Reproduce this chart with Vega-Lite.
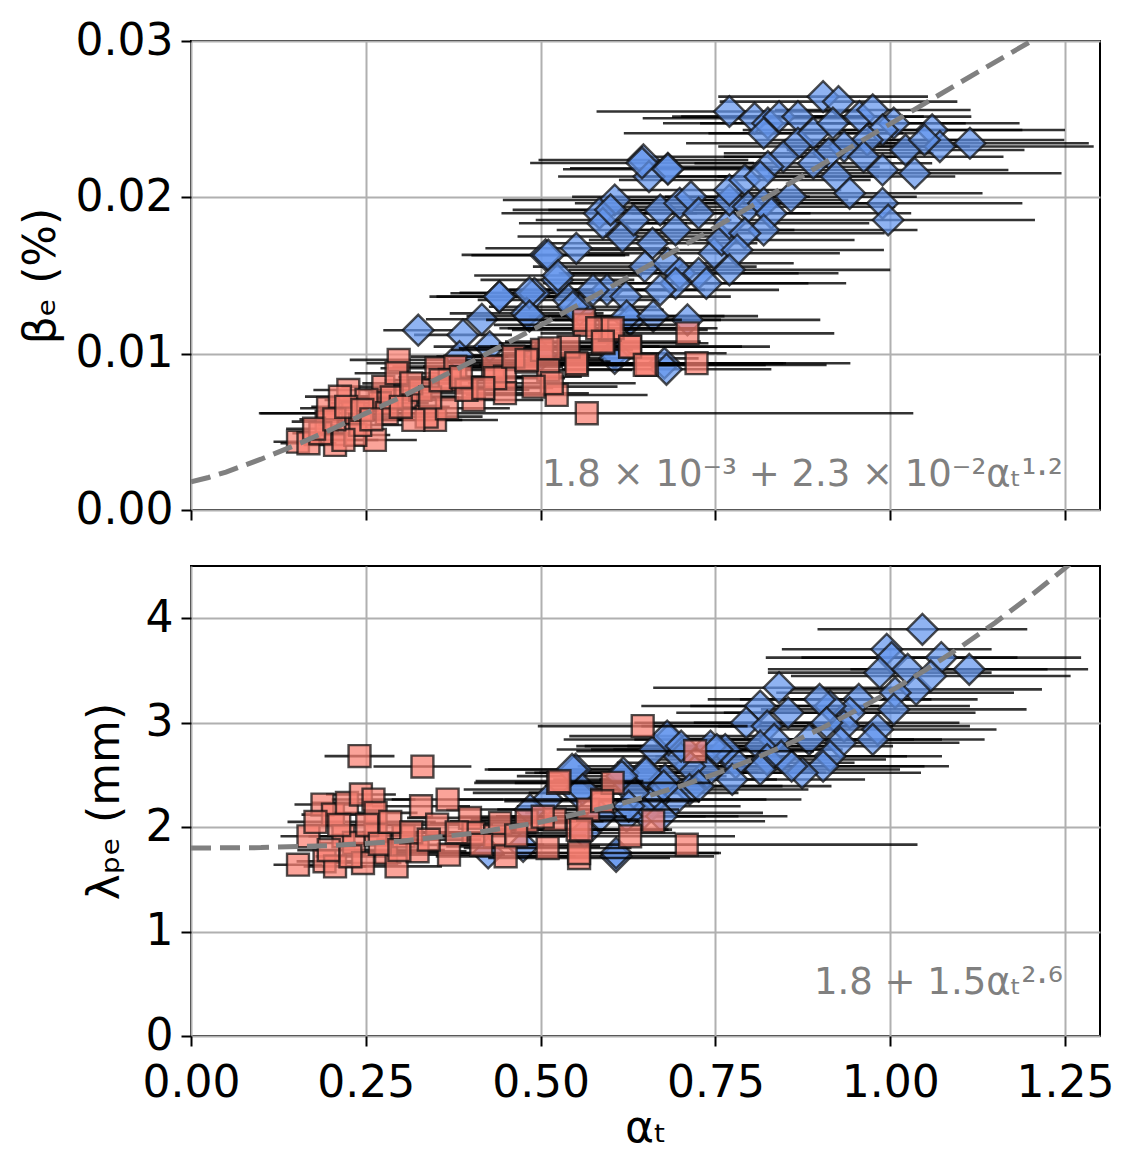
{
"$schema": "https://vega.github.io/schema/vega-lite/v6.json",
"background": "white",
"padding": {"left": 18, "top": 18, "right": 10, "bottom": 5},
"config": {
  "font": "DejaVu Sans",
  "view": {"stroke": "black", "strokeWidth": 2},
  "axis": {"grid": true, "gridColor": "#b0b0b0", "gridWidth": 2, "gridOpacity": 1, "domain": false, "tickColor": "black", "tickWidth": 2, "tickSize": 10, "labelFontSize": 44, "labelColor": "black", "labelPadding": 8, "labelFlush": false, "titleFontSize": 44, "titleFontWeight": "normal", "titleColor": "black", "labelFont": "DejaVu Sans", "titleFont": "DejaVu Sans"}
},
"datasets": {
"topH": [
{"a":0.770,"v":0.02549,"e":0.19},{"a":0.806,"v":0.02506,"e":0.16},{"a":0.825,"v":0.02474,"e":0.15},{"a":0.841,"v":0.02516,"e":0.14},{"a":0.868,"v":0.02516,"e":0.18},{"a":0.904,"v":0.02644,"e":0.15},{"a":0.926,"v":0.02612,"e":0.17},{"a":0.819,"v":0.0241,"e":0.2},{"a":0.868,"v":0.02346,"e":0.16},{"a":0.890,"v":0.0241,"e":0.15},{"a":0.918,"v":0.02474,"e":0.19},{"a":0.956,"v":0.02516,"e":0.16},{"a":0.975,"v":0.02559,"e":0.14},{"a":1.005,"v":0.02474,"e":0.18},{"a":0.989,"v":0.02431,"e":0.2},{"a":1.022,"v":0.02303,"e":0.17},{"a":1.060,"v":0.02431,"e":0.19},{"a":1.071,"v":0.02325,"e":0.22},{"a":1.114,"v":0.02346,"e":0.17},{"a":1.049,"v":0.02367,"e":0.2},{"a":0.967,"v":0.02367,"e":0.16},{"a":0.934,"v":0.02325,"e":0.18},{"a":0.912,"v":0.02282,"e":0.15},{"a":0.890,"v":0.02218,"e":0.17},{"a":0.847,"v":0.0226,"e":0.19},{"a":0.825,"v":0.02196,"e":0.16},{"a":0.962,"v":0.0226,"e":0.2},{"a":0.989,"v":0.02175,"e":0.18},{"a":1.035,"v":0.02154,"e":0.21},{"a":0.923,"v":0.02133,"e":0.17},{"a":0.942,"v":0.02026,"e":0.19},{"a":0.989,"v":0.01962,"e":0.2},{"a":0.997,"v":0.01855,"e":0.21},{"a":0.647,"v":0.02239,"e":0.15},{"a":0.682,"v":0.02186,"e":0.14},{"a":0.655,"v":0.02133,"e":0.13},{"a":0.606,"v":0.01983,"e":0.16},{"a":0.584,"v":0.01898,"e":0.14},{"a":0.589,"v":0.01834,"e":0.12},{"a":0.551,"v":0.01674,"e":0.13},{"a":0.507,"v":0.01632,"e":0.12},{"a":0.524,"v":0.01472,"e":0.11},{"a":0.441,"v":0.01365,"e":0.1},{"a":0.491,"v":0.01386,"e":0.12},{"a":0.480,"v":0.01258,"e":0.11},{"a":0.540,"v":0.01344,"e":0.13},{"a":0.556,"v":0.0128,"e":0.12},{"a":0.595,"v":0.01408,"e":0.14},{"a":0.622,"v":0.01365,"e":0.15},{"a":0.628,"v":0.01216,"e":0.13},{"a":0.617,"v":0.01749,"e":0.15},{"a":0.633,"v":0.01855,"e":0.14},{"a":0.671,"v":0.01919,"e":0.16},{"a":0.699,"v":0.01962,"e":0.15},{"a":0.715,"v":0.02004,"e":0.17},{"a":0.726,"v":0.01898,"e":0.16},{"a":0.693,"v":0.01791,"e":0.17},{"a":0.660,"v":0.01706,"e":0.15},{"a":0.649,"v":0.01557,"e":0.16},{"a":0.682,"v":0.01578,"e":0.18},{"a":0.699,"v":0.01514,"e":0.17},{"a":0.726,"v":0.01514,"e":0.2},{"a":0.748,"v":0.01642,"e":0.18},{"a":0.759,"v":0.01727,"e":0.19},{"a":0.770,"v":0.01834,"e":0.2},{"a":0.770,"v":0.01983,"e":0.17},{"a":0.770,"v":0.02047,"e":0.16},{"a":0.792,"v":0.02111,"e":0.18},{"a":0.814,"v":0.02133,"e":0.17},{"a":0.797,"v":0.0194,"e":0.21},{"a":0.819,"v":0.01962,"e":0.19},{"a":0.830,"v":0.01898,"e":0.2},{"a":0.858,"v":0.02004,"e":0.18},{"a":0.819,"v":0.01791,"e":0.22},{"a":0.792,"v":0.0177,"e":0.2},{"a":0.781,"v":0.01663,"e":0.21},{"a":0.770,"v":0.01536,"e":0.23},{"a":0.737,"v":0.0145,"e":0.2},{"a":0.693,"v":0.0145,"e":0.19},{"a":0.671,"v":0.01408,"e":0.17},{"a":0.710,"v":0.01216,"e":0.19},{"a":0.677,"v":0.00939,"e":0.17},{"a":0.606,"v":0.01003,"e":0.16},{"a":0.325,"v":0.0115,"e":0.05},{"a":0.389,"v":0.0112,"e":0.07},{"a":0.416,"v":0.0122,"e":0.08},{"a":0.441,"v":0.01365,"e":0.09},{"a":0.484,"v":0.0139,"e":0.1},{"a":0.484,"v":0.0124,"e":0.09},{"a":0.511,"v":0.0163,"e":0.11},{"a":0.525,"v":0.015,"e":0.12},{"a":0.546,"v":0.013,"e":0.12},{"a":0.575,"v":0.01408,"e":0.13},{"a":0.623,"v":0.0124,"e":0.14},{"a":0.661,"v":0.0124,"e":0.15},{"a":0.427,"v":0.01045,"e":0.08},{"a":0.384,"v":0.00981,"e":0.07},{"a":0.600,"v":0.0192,"e":0.14},{"a":0.645,"v":0.0222,"e":0.16},{"a":0.682,"v":0.0218,"e":0.15},{"a":0.500,"v":0.0099,"e":0.1},{"a":0.606,"v":0.0097,"e":0.12},{"a":0.680,"v":0.0090,"e":0.15}
],
"topL": [
{"a":0.153,"v":0.00437,"e":0.035},{"a":0.168,"v":0.00427,"e":0.04},{"a":0.194,"v":0.00565,"e":0.05},{"a":0.206,"v":0.00416,"e":0.045},{"a":0.225,"v":0.00768,"e":0.05},{"a":0.196,"v":0.00651,"e":0.04},{"a":0.232,"v":0.00619,"e":0.135},{"a":0.263,"v":0.00448,"e":0.06},{"a":0.235,"v":0.0048,"e":0.05},{"a":0.275,"v":0.00789,"e":0.06},{"a":0.297,"v":0.0096,"e":0.07},{"a":0.294,"v":0.00875,"e":0.06},{"a":0.270,"v":0.00683,"e":0.07},{"a":0.308,"v":0.00725,"e":0.07},{"a":0.328,"v":0.00768,"e":0.08},{"a":0.351,"v":0.00907,"e":0.08},{"a":0.349,"v":0.00576,"e":0.09},{"a":0.337,"v":0.00597,"e":0.08},{"a":0.366,"v":0.00651,"e":0.09},{"a":0.378,"v":0.00917,"e":0.09},{"a":0.370,"v":0.00832,"e":0.08},{"a":0.404,"v":0.00704,"e":0.1},{"a":0.394,"v":0.00768,"e":0.09},{"a":0.432,"v":0.00917,"e":0.1},{"a":0.449,"v":0.00853,"e":0.11},{"a":0.449,"v":0.00747,"e":0.12},{"a":0.480,"v":0.00949,"e":0.12},{"a":0.502,"v":0.01024,"e":0.13},{"a":0.511,"v":0.00896,"e":0.12},{"a":0.523,"v":0.00736,"e":0.13},{"a":0.552,"v":0.00928,"e":0.14},{"a":0.563,"v":0.01184,"e":0.13},{"a":0.566,"v":0.00619,"e":0.467},{"a":0.590,"v":0.01067,"e":0.15},{"a":0.628,"v":0.01045,"e":0.16},{"a":0.652,"v":0.00928,"e":0.17},{"a":0.599,"v":0.01152,"e":0.14},{"a":0.540,"v":0.01045,"e":0.13},{"a":0.516,"v":0.00811,"e":0.12},{"a":0.490,"v":0.00789,"e":0.12},{"a":0.435,"v":0.00843,"e":0.1},{"a":0.242,"v":0.00544,"e":0.06},{"a":0.218,"v":0.00448,"e":0.05},{"a":0.251,"v":0.00704,"e":0.06},{"a":0.185,"v":0.00491,"e":0.04},{"a":0.213,"v":0.00725,"e":0.05},{"a":0.318,"v":0.00576,"e":0.07},{"a":0.280,"v":0.00619,"e":0.06},{"a":0.461,"v":0.00981,"e":0.11},{"a":0.562,"v":0.01216,"e":0.14},{"a":0.581,"v":0.01163,"e":0.14},{"a":0.603,"v":0.01163,"e":0.15},{"a":0.589,"v":0.01077,"e":0.14},{"a":0.513,"v":0.01034,"e":0.13},{"a":0.628,"v":0.01045,"e":0.2},{"a":0.710,"v":0.0113,"e":0.21},{"a":0.723,"v":0.00939,"e":0.22},{"a":0.649,"v":0.00928,"e":0.26},{"a":0.551,"v":0.00939,"e":0.3},{"a":0.480,"v":0.0096,"e":0.11},{"a":0.176,"v":0.0052,"e":0.04},{"a":0.205,"v":0.0058,"e":0.05},{"a":0.222,"v":0.0066,"e":0.05},{"a":0.245,"v":0.0064,"e":0.06},{"a":0.258,"v":0.0058,"e":0.06},{"a":0.287,"v":0.0072,"e":0.07},{"a":0.300,"v":0.0066,"e":0.07},{"a":0.315,"v":0.0081,"e":0.07},{"a":0.342,"v":0.0072,"e":0.08},{"a":0.357,"v":0.0083,"e":0.08},{"a":0.386,"v":0.0085,"e":0.09},{"a":0.418,"v":0.0078,"e":0.1}
],
"botH": [
{"a":1.046,"v":3.894,"e":0.15},{"a":0.995,"v":3.703,"e":0.15},{"a":1.073,"v":3.623,"e":0.2},{"a":1.113,"v":3.511,"e":0.17},{"a":1.002,"v":3.623,"e":0.18},{"a":0.985,"v":3.479,"e":0.16},{"a":1.025,"v":3.511,"e":0.2},{"a":1.037,"v":3.319,"e":0.18},{"a":1.007,"v":3.287,"e":0.17},{"a":1.005,"v":3.127,"e":0.19},{"a":1.058,"v":3.447,"e":0.2},{"a":0.955,"v":3.223,"e":0.17},{"a":0.942,"v":3.095,"e":0.18},{"a":0.982,"v":2.935,"e":0.17},{"a":0.975,"v":2.839,"e":0.16},{"a":0.934,"v":2.967,"e":0.18},{"a":0.914,"v":3.159,"e":0.2},{"a":0.899,"v":3.223,"e":0.16},{"a":0.909,"v":2.999,"e":0.19},{"a":0.929,"v":2.807,"e":0.17},{"a":0.914,"v":2.679,"e":0.16},{"a":0.904,"v":2.583,"e":0.18},{"a":0.874,"v":2.52,"e":0.17},{"a":0.884,"v":2.839,"e":0.19},{"a":0.854,"v":3.095,"e":0.16},{"a":0.841,"v":3.335,"e":0.18},{"a":0.814,"v":3.159,"e":0.17},{"a":0.794,"v":2.999,"e":0.16},{"a":0.824,"v":2.967,"e":0.18},{"a":0.834,"v":2.839,"e":0.2},{"a":0.814,"v":2.775,"e":0.19},{"a":0.824,"v":2.647,"e":0.17},{"a":0.844,"v":2.679,"e":0.18},{"a":0.859,"v":2.583,"e":0.19},{"a":0.814,"v":2.552,"e":0.2},{"a":0.779,"v":2.616,"e":0.17},{"a":0.764,"v":2.743,"e":0.16},{"a":0.743,"v":2.775,"e":0.18},{"a":0.774,"v":2.456,"e":0.19},{"a":0.738,"v":2.52,"e":0.17},{"a":0.713,"v":2.583,"e":0.16},{"a":0.698,"v":2.679,"e":0.15},{"a":0.683,"v":2.839,"e":0.15},{"a":0.663,"v":2.743,"e":0.14},{"a":0.648,"v":2.52,"e":0.15},{"a":0.678,"v":2.456,"e":0.16},{"a":0.713,"v":2.36,"e":0.17},{"a":0.693,"v":2.264,"e":0.18},{"a":0.663,"v":2.264,"e":0.16},{"a":0.633,"v":2.328,"e":0.15},{"a":0.618,"v":2.52,"e":0.14},{"a":0.648,"v":2.136,"e":0.17},{"a":0.673,"v":2.104,"e":0.18},{"a":0.623,"v":2.104,"e":0.16},{"a":0.550,"v":2.552,"e":0.13},{"a":0.553,"v":2.328,"e":0.15},{"a":0.608,"v":1.72,"e":0.14},{"a":0.563,"v":1.944,"e":0.13},{"a":0.545,"v":2.552,"e":0.12},{"a":0.510,"v":2.264,"e":0.13},{"a":0.485,"v":2.168,"e":0.12},{"a":0.560,"v":2.36,"e":0.17},{"a":0.475,"v":1.816,"e":0.11},{"a":0.425,"v":1.752,"e":0.1},{"a":0.608,"v":1.752,"e":0.15},{"a":0.681,"v":2.871,"e":0.14},{"a":0.701,"v":2.775,"e":0.15},{"a":0.651,"v":2.52,"e":0.16},{"a":0.616,"v":2.488,"e":0.15},{"a":0.676,"v":2.392,"e":0.17},{"a":0.752,"v":2.743,"e":0.18},{"a":0.726,"v":2.392,"e":0.19},{"a":0.586,"v":2.104,"e":0.15},{"a":0.626,"v":2.2,"e":0.16}
],
"botL": [
{"a":0.241,"v":2.68,"e":0.05},{"a":0.331,"v":2.58,"e":0.07},{"a":0.188,"v":2.216,"e":0.04},{"a":0.203,"v":2.12,"e":0.045},{"a":0.223,"v":2.232,"e":0.05},{"a":0.243,"v":2.312,"e":0.05},{"a":0.261,"v":2.264,"e":0.06},{"a":0.264,"v":2.136,"e":0.06},{"a":0.168,"v":1.912,"e":0.04},{"a":0.153,"v":1.64,"e":0.035},{"a":0.191,"v":1.672,"e":0.04},{"a":0.206,"v":1.624,"e":0.045},{"a":0.218,"v":1.912,"e":0.05},{"a":0.233,"v":1.848,"e":0.05},{"a":0.246,"v":1.656,"e":0.055},{"a":0.264,"v":1.928,"e":0.06},{"a":0.279,"v":1.752,"e":0.06},{"a":0.294,"v":1.624,"e":0.065},{"a":0.304,"v":1.912,"e":0.07},{"a":0.329,"v":2.2,"e":0.07},{"a":0.324,"v":1.768,"e":0.07},{"a":0.352,"v":2.024,"e":0.08},{"a":0.367,"v":2.264,"e":0.08},{"a":0.369,"v":1.736,"e":0.08},{"a":0.399,"v":2.088,"e":0.09},{"a":0.404,"v":1.944,"e":0.09},{"a":0.435,"v":1.912,"e":0.1},{"a":0.450,"v":1.72,"e":0.1},{"a":0.442,"v":2.04,"e":0.1},{"a":0.480,"v":2.056,"e":0.11},{"a":0.510,"v":1.8,"e":0.12},{"a":0.525,"v":2.424,"e":0.12},{"a":0.520,"v":2.072,"e":0.12},{"a":0.553,"v":1.976,"e":0.13},{"a":0.555,"v":1.704,"e":0.13},{"a":0.568,"v":2.168,"e":0.13},{"a":0.588,"v":2.264,"e":0.14},{"a":0.603,"v":2.424,"e":0.14},{"a":0.628,"v":1.912,"e":0.15},{"a":0.646,"v":2.967,"e":0.15},{"a":0.661,"v":2.056,"e":0.16},{"a":0.721,"v":2.727,"e":0.17},{"a":0.709,"v":1.832,"e":0.33},{"a":0.503,"v":2.10,"e":0.12},{"a":0.527,"v":2.44,"e":0.12},{"a":0.588,"v":2.248,"e":0.14},{"a":0.558,"v":1.976,"e":0.13},{"a":0.555,"v":1.752,"e":0.2},{"a":0.178,"v":2.05,"e":0.04},{"a":0.197,"v":1.78,"e":0.045},{"a":0.212,"v":2.02,"e":0.05},{"a":0.228,"v":1.72,"e":0.05},{"a":0.252,"v":2.02,"e":0.055},{"a":0.270,"v":1.84,"e":0.06},{"a":0.285,"v":2.05,"e":0.065},{"a":0.298,"v":1.78,"e":0.065},{"a":0.315,"v":1.95,"e":0.07},{"a":0.340,"v":1.88,"e":0.075},{"a":0.380,"v":1.95,"e":0.085},{"a":0.415,"v":1.83,"e":0.09},{"a":0.465,"v":1.92,"e":0.1}
],
"fitTop": [
{"a":0,"v":0.0018},{"a":0.025,"v":0.00208},{"a":0.05,"v":0.00243},{"a":0.1,"v":0.00325},{"a":0.15,"v":0.00416},{"a":0.2,"v":0.00514},{"a":0.3,"v":0.00722},{"a":0.4,"v":0.00946},{"a":0.5,"v":0.01181},{"a":0.6,"v":0.01426},{"a":0.7,"v":0.01679},{"a":0.8,"v":0.0194},{"a":0.9,"v":0.02205},{"a":1.0,"v":0.0247},{"a":1.1,"v":0.02735},{"a":1.2,"v":0.02995},{"a":1.25,"v":0.0312}
],
"fitBot": [
{"a":0,"v":1.8},{"a":0.1,"v":1.8038},{"a":0.2,"v":1.8229},{"a":0.3,"v":1.8656},{"a":0.4,"v":1.9385},{"a":0.5,"v":2.0474},{"a":0.6,"v":2.1975},{"a":0.65,"v":2.2895},{"a":0.7,"v":2.3934},{"a":0.75,"v":2.51},{"a":0.8,"v":2.6397},{"a":0.85,"v":2.783},{"a":0.9,"v":2.9406},{"a":0.95,"v":3.1127},{"a":1.0,"v":3.3},{"a":1.05,"v":3.5028},{"a":1.1,"v":3.7218},{"a":1.15,"v":3.9573},{"a":1.2,"v":4.2098},{"a":1.25,"v":4.4794},{"a":1.3,"v":4.767}
]
},
"spacing": 32,
"resolve": {"scale": {"x": "independent", "y": "independent"}},
"vconcat": [
{
  "width": 909, "height": 469,
  "layer": [
    {"data": {"name": "topH"},
     "mark": {"type": "errorbar", "color": "black", "opacity": 0.8, "thickness": 2.6},
     "encoding": {
       "x": {"field": "a", "type": "quantitative", "title": null, "scale": {"domain": [0, 1.3], "nice": false, "zero": false}, "axis": {"values": [0, 0.25, 0.5, 0.75, 1, 1.25], "labels": false, "title": null}},
       "xError": {"field": "e"},
       "y": {"field": "v", "type": "quantitative", "title": "βₑ (%)", "scale": {"domain": [0, 0.03], "nice": false}, "axis": {"values": [0, 0.01, 0.02, 0.03], "format": ".2f", "title": "βₑ (%)", "titlePadding": 12}}
     }},
    {"data": {"name": "topH"},
     "mark": {"type": "point", "shape": "diamond", "filled": true, "size": 950, "fill": "#6495ED", "fillOpacity": 0.72, "stroke": "#111111", "strokeOpacity": 0.75, "strokeWidth": 2.4},
     "encoding": {"x": {"field": "a", "type": "quantitative", "title": null}, "y": {"field": "v", "type": "quantitative", "title": "βₑ (%)"}}},
    {"data": {"name": "topL"},
     "mark": {"type": "errorbar", "color": "black", "opacity": 0.8, "thickness": 2.6},
     "encoding": {"x": {"field": "a", "type": "quantitative", "title": null}, "xError": {"field": "e"}, "y": {"field": "v", "type": "quantitative", "title": "βₑ (%)"}}},
    {"data": {"name": "topL"},
     "mark": {"type": "point", "shape": "square", "filled": true, "size": 480, "fill": "#FA8072", "fillOpacity": 0.72, "stroke": "#111111", "strokeOpacity": 0.75, "strokeWidth": 2.4},
     "encoding": {"x": {"field": "a", "type": "quantitative", "title": null}, "y": {"field": "v", "type": "quantitative", "title": "βₑ (%)"}}},
    {"data": {"name": "fitTop"},
     "mark": {"type": "line", "color": "#808080", "strokeWidth": 5, "strokeDash": [20, 9], "clip": true},
     "encoding": {"x": {"field": "a", "type": "quantitative", "title": null}, "y": {"field": "v", "type": "quantitative", "title": "βₑ (%)"}}},
    {"data": {"values": [{}]},
     "mark": {"type": "text", "align": "right", "baseline": "alphabetic", "fontSize": 37, "color": "#808080", "font": "DejaVu Sans"},
     "encoding": {"x": {"datum": 1.247, "title": null}, "y": {"datum": 0.00154, "title": "βₑ (%)"}, "text": {"value": "1.8 × 10⁻³ + 2.3 × 10⁻²αₜ¹·²"}}}
  ]
},
{
  "width": 909, "height": 470,
  "layer": [
    {"data": {"name": "botH"},
     "mark": {"type": "errorbar", "color": "black", "opacity": 0.8, "thickness": 2.6},
     "encoding": {
       "x": {"field": "a", "type": "quantitative", "title": "αₜ", "scale": {"domain": [0, 1.3], "nice": false, "zero": false}, "axis": {"values": [0, 0.25, 0.5, 0.75, 1, 1.25], "format": ".2f", "title": "αₜ", "labelPadding": 15, "titlePadding": 1}},
       "xError": {"field": "e"},
       "y": {"field": "v", "type": "quantitative", "title": "λₚₑ (mm)", "scale": {"domain": [0, 4.5], "nice": false}, "axis": {"values": [0, 1, 2, 3, 4], "format": "d", "title": "λₚₑ (mm)", "titlePadding": 18}}
     }},
    {"data": {"name": "botH"},
     "mark": {"type": "point", "shape": "diamond", "filled": true, "size": 950, "fill": "#6495ED", "fillOpacity": 0.72, "stroke": "#111111", "strokeOpacity": 0.75, "strokeWidth": 2.4},
     "encoding": {"x": {"field": "a", "type": "quantitative", "title": "αₜ"}, "y": {"field": "v", "type": "quantitative", "title": "λₚₑ (mm)"}}},
    {"data": {"name": "botL"},
     "mark": {"type": "errorbar", "color": "black", "opacity": 0.8, "thickness": 2.6},
     "encoding": {"x": {"field": "a", "type": "quantitative", "title": "αₜ"}, "xError": {"field": "e"}, "y": {"field": "v", "type": "quantitative", "title": "λₚₑ (mm)"}}},
    {"data": {"name": "botL"},
     "mark": {"type": "point", "shape": "square", "filled": true, "size": 480, "fill": "#FA8072", "fillOpacity": 0.72, "stroke": "#111111", "strokeOpacity": 0.75, "strokeWidth": 2.4},
     "encoding": {"x": {"field": "a", "type": "quantitative", "title": "αₜ"}, "y": {"field": "v", "type": "quantitative", "title": "λₚₑ (mm)"}}},
    {"data": {"name": "fitBot"},
     "mark": {"type": "line", "color": "#808080", "strokeWidth": 5, "strokeDash": [20, 9], "clip": true},
     "encoding": {"x": {"field": "a", "type": "quantitative", "title": "αₜ"}, "y": {"field": "v", "type": "quantitative", "title": "λₚₑ (mm)"}}},
    {"data": {"values": [{}]},
     "mark": {"type": "text", "align": "right", "baseline": "alphabetic", "fontSize": 37, "color": "#808080", "font": "DejaVu Sans"},
     "encoding": {"x": {"datum": 1.247, "title": "αₜ"}, "y": {"datum": 0.403, "title": "λₚₑ (mm)"}, "text": {"value": "1.8 + 1.5αₜ²·⁶"}}}
  ]
}
]
}
